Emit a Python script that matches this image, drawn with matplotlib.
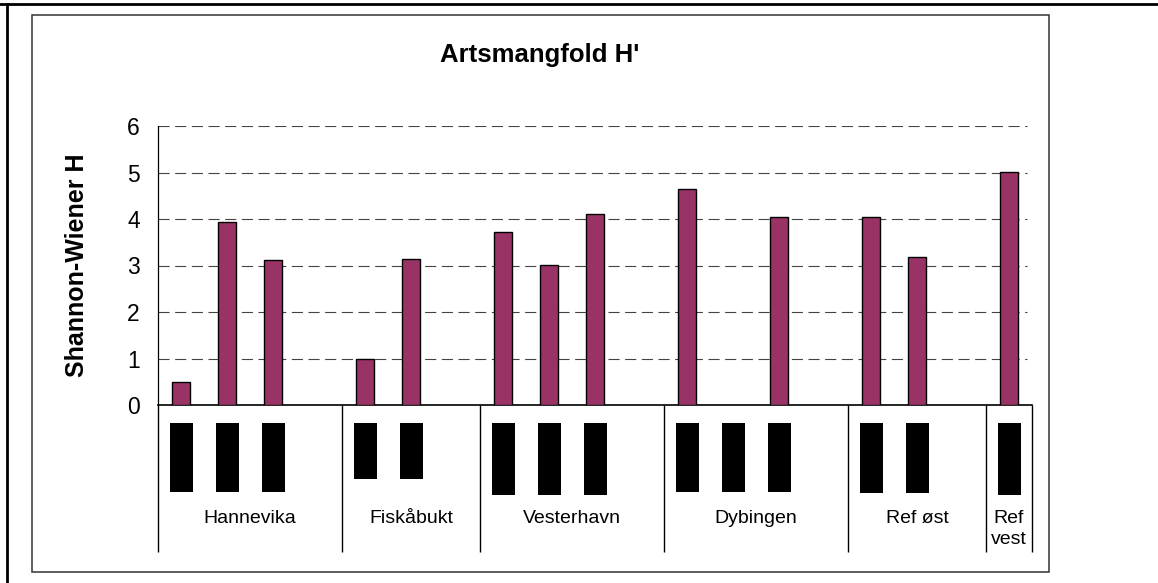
import numpy as np
import matplotlib
matplotlib.use("Agg")
import matplotlib.pyplot as plt
from matplotlib.patches import Rectangle
from matplotlib.lines import Line2D

plt.rcParams['font.family'] = ['Liberation Sans', 'DejaVu Sans']

# data
groups = ["Hannevika", "Fiskåbukt", "Vesterhavn", "Dybingen", "Ref øst", "Ref\nvest"]
slots = [4, 3, 4, 4, 3, 1]
hannevika = [0.49, 3.94, 3.11, np.nan]
fiskabukt = [0.99, 3.14, np.nan]
vesterhavn = [3.72, 3.02, 4.11, np.nan]
dybingen = [4.64, np.nan, 4.05, np.nan]
ref_ost = [4.05, 3.18, np.nan]
ref_vest = [5.02]
# how many station labels each group carries (drawn as black blocks)
n_labels = [3, 2, 3, 3, 2, 1]
yticks = [0, 1, 2, 3, 4, 5, 6]

values = hannevika + fiskabukt + vesterhavn + dybingen + ref_ost + ref_vest

W, H = 1158, 583
fig = plt.figure(figsize=(W / 100, H / 100), dpi=100)

# frames around the chart
fig.add_artist(Line2D([0, 1], [1 - 4 / H, 1 - 4 / H], color='black', lw=2))
fig.add_artist(Line2D([7 / W, 7 / W], [0, 1 - 4 / H], color='black', lw=2))
fig.add_artist(Rectangle((32 / W, 1 - 572 / H), (1049 - 32) / W, (572 - 15) / H,
                         fill=False, edgecolor='#333333', lw=1.1))

x0, x1, ytop, ybot = 158, 1032, 126, 405
ax = fig.add_axes([x0 / W, 1 - ybot / H, (x1 - x0) / W, (ybot - ytop) / H])
x = np.arange(len(values))
ax.bar(x, values, width=0.4, color='#993366', edgecolor='black', linewidth=1, zorder=3)
ax.set_xlim(-0.5, len(values) - 0.5)
ax.set_ylim(0, 6)
ax.set_yticks(yticks)
ax.set_xticks([])
ax.tick_params(axis='y', length=0, pad=13, labelsize=16.5)
for yv in yticks[1:]:
    ax.axhline(yv, xmax=0.994, color='#444444', lw=0.8, dashes=(10, 5), zorder=1)
for s in ['top', 'right']:
    ax.spines[s].set_visible(False)
ax.spines['left'].set_linewidth(0.9)
ax.spines['bottom'].set_linewidth(1.2)
ax.set_ylabel("Shannon-Wiener H", fontsize=18, fontweight='bold')
ax.yaxis.set_label_coords((89 - x0) / (x1 - x0), 0.5)

fig.text(540 / W, 1 - 55 / H, "Artsmangfold H'", fontsize=18.5, fontweight='bold',
         ha='center', va='center')

# category area below the axis, y in pixel rows
ax2 = fig.add_axes([x0 / W, 1 - 552 / H, (x1 - x0) / W, (552 - ybot) / H])
ax2.set_xlim(-0.5, len(values) - 0.5)
ax2.set_ylim(552, ybot)
ax2.axis('off')
box_bottom = [492, 479, 495, 492, 493, 495]
edges = np.concatenate([[0], np.cumsum(slots)]) - 0.5
ax2.vlines(edges, ybot, 552, color='black', lw=1, clip_on=False)
for i, name in enumerate(groups):
    start = edges[i] + 0.5
    for k in range(n_labels[i]):
        ax2.add_patch(Rectangle((start + k - 0.25, 423), 0.5, box_bottom[i] - 423,
                                color='black', lw=0))
    ax2.text((edges[i] + edges[i + 1]) / 2, 510, name, ha='center', va='top',
             fontsize=14, linespacing=1.3)

fig.savefig("out.png", dpi=100)
